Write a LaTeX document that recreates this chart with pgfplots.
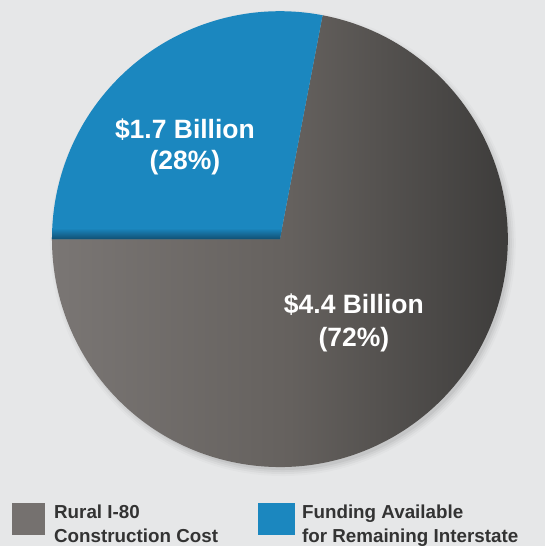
\documentclass[border=0pt]{standalone}
\usepackage{fontspec}
\setmainfont{Liberation Sans}
\usepackage{pgfplots}
\pgfplotsset{compat=1.18}

\definecolor{bg}{HTML}{E6E7E8}
\definecolor{costL}{HTML}{7A7674}
\definecolor{costM}{HTML}{65615E}
\definecolor{costR}{HTML}{3A3938}
\definecolor{costKey}{HTML}{75716F}
\definecolor{fund}{HTML}{1B87BF}
\definecolor{fundDark}{HTML}{114F72}

% shares in percent
\def\valCost{72}
\def\valFund{28}
% pie centre and radius (px)
\def\cx{280}
\def\cy{307}
\def\rr{228}
\pgfmathsetmacro{\splitA}{180-3.6*\valFund}

\begin{document}
\begin{tikzpicture}
\begin{axis}[x=1pt, y=1pt, xmin=0, xmax=545, ymin=0, ymax=546,
  hide axis, clip=false, scale only axis]
\fill[bg] (axis cs:0,0) rectangle (axis cs:545,546);

% soft drop shadow
\fill[black, opacity=0.02] (axis cs:283,303) circle[radius=233pt];
\fill[black, opacity=0.03] (axis cs:283,303) circle[radius=231pt];
\fill[black, opacity=0.04] (axis cs:283,303) circle[radius=229pt];
\fill[black, opacity=0.05] (axis cs:283,303) circle[radius=227pt];

% construction cost slice
\shade[left color=costL, right color=costR, middle color=costM]
  (axis cs:\cx,\cy) -- ++(\splitA:\rr pt) arc[start angle=\splitA, end angle=-180, radius=\rr pt] -- cycle;

% funding slice
\fill[fund] (axis cs:\cx,\cy) -- ++(\splitA:\rr pt) arc[start angle=\splitA, end angle=180, radius=\rr pt] -- cycle;
\begin{scope}
  \clip (axis cs:\cx,\cy) -- ++(\splitA:\rr pt) arc[start angle=\splitA, end angle=180, radius=\rr pt] -- cycle;
  \shade[top color=fund, bottom color=fundDark] (axis cs:40,318) rectangle (axis cs:285,\cy);
\end{scope}

% slice labels
\node[text=white, font=\bfseries\fontsize{26.5}{30}\selectfont, anchor=base] at (axis cs:185,408) {\$1.7 Billion};
\node[text=white, font=\bfseries\fontsize{26.5}{30}\selectfont, anchor=base] at (axis cs:185,377) {(28\%)};
\node[text=white, font=\bfseries\fontsize{26.5}{30}\selectfont, anchor=base] at (axis cs:354,233) {\$4.4 Billion};
\node[text=white, font=\bfseries\fontsize{26.5}{30}\selectfont, anchor=base] at (axis cs:354,200) {(72\%)};

% legend
\fill[costKey] (axis cs:12,11) rectangle (axis cs:45,43);
\fill[fund] (axis cs:258,11) rectangle (axis cs:295,43);
\node[text=black!80, font=\bfseries\fontsize{18.8}{24}\selectfont, anchor=base west, inner sep=0pt] at (axis cs:54,28) {Rural I-80};
\node[text=black!80, font=\bfseries\fontsize{18.8}{24}\selectfont, anchor=base west, inner sep=0pt] at (axis cs:54,4) {Construction Cost};
\node[text=black!80, font=\bfseries\fontsize{18.8}{24}\selectfont, anchor=base west, inner sep=0pt] at (axis cs:302,28) {Funding Available};
\node[text=black!80, font=\bfseries\fontsize{18.8}{24}\selectfont, anchor=base west, inner sep=0pt] at (axis cs:302,4) {for Remaining Interstate};
\end{axis}
\end{tikzpicture}
\end{document}
